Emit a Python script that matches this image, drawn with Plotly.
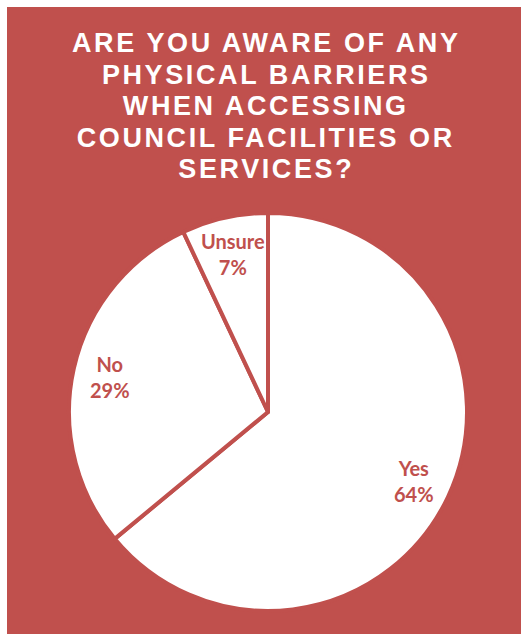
import math
import plotly.graph_objects as go

# Survey answers
categories = ["Yes", "No", "Unsure"]
shares = [64, 29, 7]
title_lines = [
    "ARE YOU AWARE OF ANY",
    "PHYSICAL BARRIERS",
    "WHEN ACCESSING",
    "COUNCIL FACILITIES OR",
    "SERVICES?",
]

W, H = 521, 634
RED = "#C0504D"
WHITE = "#FFFFFF"

# pie geometry in pixels
cx, cy, r = 268, 412, 199
line_w = 4

fig = go.Figure()
fig.add_trace(go.Pie(
    labels=categories,
    values=shares,
    sort=False,
    direction="clockwise",
    rotation=0,
    textinfo="none",
    hoverinfo="label+percent",
    marker=dict(colors=[WHITE] * len(shares), line=dict(color=RED, width=line_w)),
    domain=dict(x=[(cx - r) / W, (cx + r) / W], y=[(H - cy - r) / H, (H - cy + r) / H]),
    showlegend=False,
))

annotations = []
# title, one annotation per line for tighter line spacing
title_top = 43.3
title_step = 31.5
for i, line in enumerate(title_lines):
    annotations.append(dict(
        text=line, x=266 / W, y=1 - (title_top + i * title_step) / H,
        xref="paper", yref="paper", xanchor="center", yanchor="middle",
        showarrow=False,
        font=dict(family="Liberation Sans, Arial, sans-serif", size=27, color=WHITE, weight="bold"),
    ))

# slice labels placed along each slice's bisector
total = sum(shares)
acc = 0
label_r = 0.82 * (r - line_w / 2)
for name, v in zip(categories, shares):
    mid = (acc + v / 2) / total * 2 * math.pi
    acc += v
    px = cx + label_r * math.sin(mid)
    py = cy - label_r * math.cos(mid)
    annotations.append(dict(
        text=f"{name}<br>{round(v / total * 100)}%",
        x=px / W, y=1 - py / H, xref="paper", yref="paper",
        xanchor="center", yanchor="middle", showarrow=False,
        font=dict(family="Lato, Open Sans, sans-serif", size=20, color=RED, weight="bold"),
    ))

fig.update_layout(
    width=W, height=H,
    margin=dict(l=0, r=0, t=0, b=0),
    paper_bgcolor=WHITE,
    annotations=annotations,
    shapes=[dict(type="rect", xref="paper", yref="paper",
                 x0=7 / W, x1=1, y0=0, y1=1 - 7 / H,
                 fillcolor=RED, line=dict(width=0), layer="below")],
)

post = """
var gd = document.getElementById('{plot_id}');
gd.querySelectorAll('.annotation-text').forEach(function (t) {
  if (t.style.fill === 'rgb(255, 255, 255)') { t.style.letterSpacing = '2.6px'; }
});
"""

fig.write_html("out.html", post_script=post, config={"displayModeBar": False})
